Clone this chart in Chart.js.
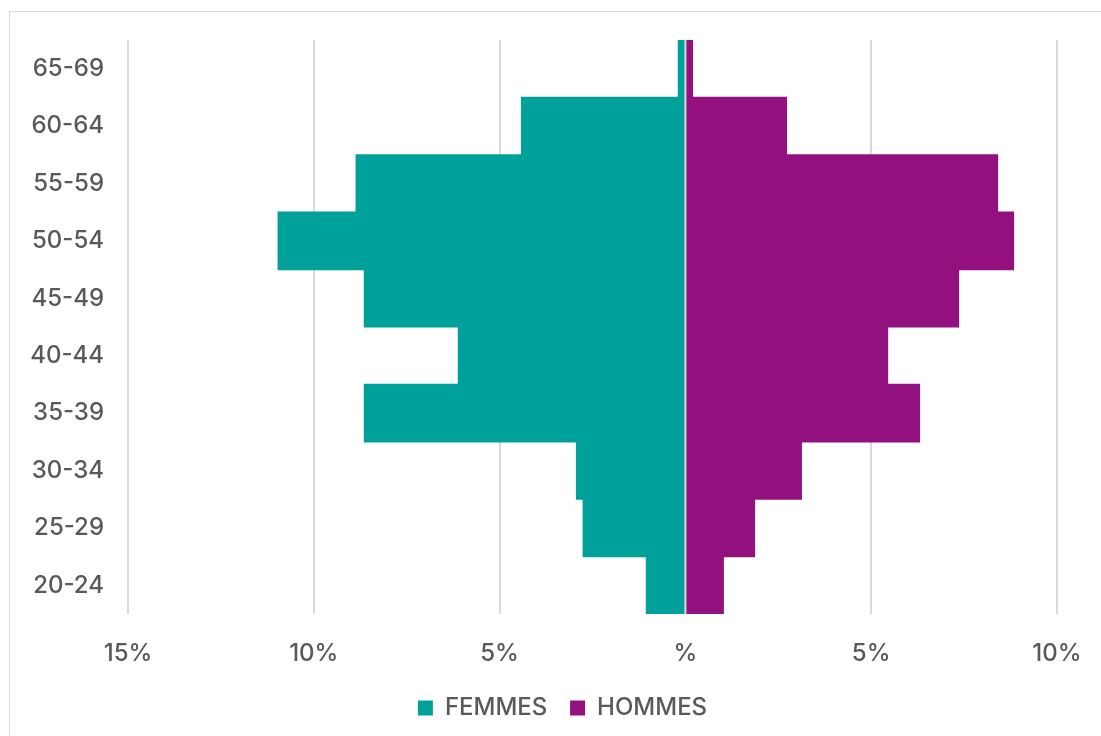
<!DOCTYPE html>
<html>
<head>
<meta charset="utf-8">
<script src="https://cdn.jsdelivr.net/npm/chart.js@4"></script>
<style>
  html, body { margin: 0; padding: 0; background: #fff; overflow: hidden; }
  #frame { position: absolute; left: 9px; top: 11px; width: 1200px; height: 800px; border: 1px solid #d9d9d9; box-sizing: border-box; }
  #wrap { position: absolute; left: 0; top: 0; width: 1101px; height: 736px; }
</style>
</head>
<body>
<div id="frame"></div>
<div id="wrap"><canvas id="pyramid"></canvas></div>
<script>
// Age groups, top to bottom
const ageGroups = ['65-69', '60-64', '55-59', '50-54', '45-49', '40-44', '35-39', '30-34', '25-29', '20-24'];
// Share of each group (%)
const femmes = [0.19, 4.41, 8.86, 10.96, 8.64, 6.11, 8.64, 2.93, 2.75, 1.05];
const hommes = [0.19, 2.72, 8.40, 8.83, 7.35, 5.44, 6.30, 3.12, 1.86, 1.02];
// Axis ticks
const xTicks = [-15, -10, -5, 0, 5, 10];

const textColor = '#595959';
const gridColor = '#d9d9d9';

// thin line at 0 drawn over the bars, legend nudged right
const extras = {
  id: 'extras',
  afterLayout(chart) {
    if (chart.legend) chart.legend.left = 68;
  },
  afterDatasetsDraw(chart) {
    const x = chart.scales.x.getPixelForValue(0);
    const { top, bottom } = chart.chartArea;
    const c = chart.ctx;
    c.save();
    c.strokeStyle = gridColor;
    c.lineWidth = 2;
    c.beginPath();
    c.moveTo(x, top);
    c.lineTo(x, bottom);
    c.stroke();
    c.restore();
  }
};

const ctx = document.getElementById('pyramid').getContext('2d');
new Chart(ctx, {
  type: 'bar',
  data: {
    labels: ageGroups,
    datasets: [{
      label: 'FEMMES',
      data: femmes.map(v => -v),
      backgroundColor: '#00a19a',
      borderWidth: 0,
      inflateAmount: 0.6
    }, {
      label: 'HOMMES',
      data: hommes,
      backgroundColor: '#93117e',
      borderWidth: 0,
      inflateAmount: 0.6
    }]
  },
  options: {
    indexAxis: 'y',
    responsive: true,
    maintainAspectRatio: false,
    animation: false,
    barPercentage: 1,
    categoryPercentage: 1,
    layout: {
      padding: { top: 40, right: 44, left: 0, bottom: 6 }
    },
    scales: {
      x: {
        stacked: true,
        min: xTicks[0],
        max: xTicks[xTicks.length - 1],
        afterBuildTicks: scale => { scale.ticks = xTicks.map(v => ({ value: v })); },
        afterFit: scale => {
          scale.height = 72;
          scale.paddingLeft = 0;
          scale.paddingRight = 0;
        },
        grid: { color: gridColor, lineWidth: 2, drawTicks: false },
        border: { display: false },
        ticks: {
          padding: 25,
          color: textColor,
          font: { family: 'Inter', size: 24, weight: '500' },
          callback: v => v === 0 ? '%' : Math.abs(v) + '%'
        }
      },
      y: {
        stacked: true,
        afterFit: scale => { scale.width = 128; },
        grid: { display: false },
        border: { display: false },
        ticks: {
          padding: 16,
          color: textColor,
          font: { family: 'Inter', size: 24, weight: '500' }
        }
      }
    },
    plugins: {
      legend: {
        position: 'bottom',
        labels: {
          boxWidth: 15,
          boxHeight: 15,
          padding: 10,
          color: textColor,
          font: { family: 'Inter', size: 24, weight: '500' },
          generateLabels: chart => Chart.defaults.plugins.legend.labels.generateLabels(chart)
            .map((item, i) => Object.assign(item, { text: item.text + (i === 0 ? '  ' : '') }))
        }
      },
      tooltip: { enabled: false }
    }
  },
  plugins: [extras]
});
</script>
</body>
</html>
